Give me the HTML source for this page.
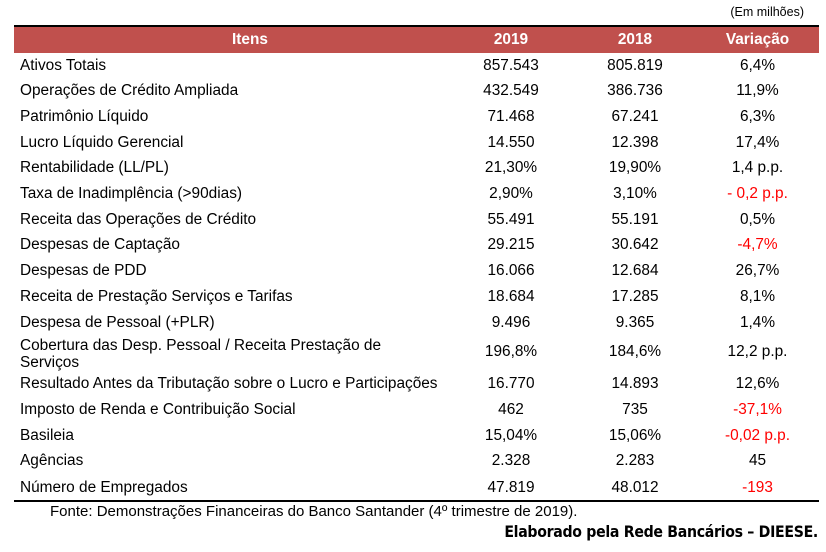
<!DOCTYPE html>
<html><head><meta charset="utf-8"><style>
body{margin:0;width:826px;height:552px;background:#fff;position:relative;font-family:"Liberation Sans",Arial,sans-serif;font-size:15.4px;color:#000;overflow:hidden}
.r{position:absolute;left:14px;width:805px;height:20px;line-height:20px}
.r span{position:absolute;top:0;white-space:nowrap}
.a{left:6px}
.b{left:427px;width:140px;text-align:center}
.c{left:551px;width:140px;text-align:center}
.d{left:666px;width:155px;text-align:center}
.red{color:#f00}
</style></head><body>
<div style="position:absolute;right:22px;top:5px;font-size:12.5px">(Em milhões)</div>
<div style="position:absolute;left:14px;top:25px;width:805px;height:2px;background:#000"></div>
<div style="position:absolute;left:14px;top:27px;width:805px;height:26px;background:#c0504d;color:#fff;font-weight:bold;line-height:26px">
<span style="position:absolute;left:0;width:472px;text-align:center">Itens</span>
<span style="position:absolute;left:427px;width:140px;text-align:center">2019</span>
<span style="position:absolute;left:551px;width:140px;text-align:center">2018</span>
<span style="position:absolute;left:666px;width:155px;text-align:center">Variação</span>
</div>
<div class="r" style="top:56px"><span class="a">Ativos Totais</span><span class="b">857.543</span><span class="c">805.819</span><span class="d">6,4%</span></div>
<div class="r" style="top:81px"><span class="a">Operações de Crédito Ampliada</span><span class="b">432.549</span><span class="c">386.736</span><span class="d">11,9%</span></div>
<div class="r" style="top:107px"><span class="a">Patrimônio Líquido</span><span class="b">71.468</span><span class="c">67.241</span><span class="d">6,3%</span></div>
<div class="r" style="top:133px"><span class="a">Lucro Líquido Gerencial</span><span class="b">14.550</span><span class="c">12.398</span><span class="d">17,4%</span></div>
<div class="r" style="top:158px"><span class="a">Rentabilidade (LL/PL)</span><span class="b">21,30%</span><span class="c">19,90%</span><span class="d">1,4 p.p.</span></div>
<div class="r" style="top:184px"><span class="a">Taxa de Inadimplência (&gt;90dias)</span><span class="b">2,90%</span><span class="c">3,10%</span><span class="d red">- 0,2 p.p.</span></div>
<div class="r" style="top:210px"><span class="a">Receita das Operações de Crédito</span><span class="b">55.491</span><span class="c">55.191</span><span class="d">0,5%</span></div>
<div class="r" style="top:235px"><span class="a">Despesas de Captação</span><span class="b">29.215</span><span class="c">30.642</span><span class="d red">-4,7%</span></div>
<div class="r" style="top:261px"><span class="a">Despesas de PDD</span><span class="b">16.066</span><span class="c">12.684</span><span class="d">26,7%</span></div>
<div class="r" style="top:287px"><span class="a">Receita de Prestação Serviços e Tarifas</span><span class="b">18.684</span><span class="c">17.285</span><span class="d">8,1%</span></div>
<div class="r" style="top:313px"><span class="a">Despesa de Pessoal (+PLR)</span><span class="b">9.496</span><span class="c">9.365</span><span class="d">1,4%</span></div>
<div class="r" style="top:337px;line-height:17px;height:36px"><span class="a" style="line-height:17px">Cobertura das Desp. Pessoal / Receita Prestação de<br>Serviços</span></div>
<div class="r" style="top:342px"><span class="b">196,8%</span><span class="c">184,6%</span><span class="d">12,2 p.p.</span></div>
<div class="r" style="top:374px"><span class="a">Resultado Antes da Tributação sobre o Lucro e Participações</span><span class="b">16.770</span><span class="c">14.893</span><span class="d">12,6%</span></div>
<div class="r" style="top:400px"><span class="a">Imposto de Renda e Contribuição Social</span><span class="b">462</span><span class="c">735</span><span class="d red">-37,1%</span></div>
<div class="r" style="top:426px"><span class="a">Basileia</span><span class="b">15,04%</span><span class="c">15,06%</span><span class="d red">-0,02 p.p.</span></div>
<div class="r" style="top:451px"><span class="a">Agências</span><span class="b">2.328</span><span class="c">2.283</span><span class="d">45</span></div>
<div class="r" style="top:478px"><span class="a">Número de Empregados</span><span class="b">47.819</span><span class="c">48.012</span><span class="d red">-193</span></div>
<div style="position:absolute;left:14px;top:500px;width:805px;height:2px;background:#000"></div>
<div style="position:absolute;left:50px;top:503px;font-size:15px">Fonte: Demonstrações Financeiras do Banco Santander (4º trimestre de 2019).</div>
<div style="position:absolute;right:8px;top:522px;font-size:15.7px;font-weight:bold;font-family:'DejaVu Sans Condensed','DejaVu Sans',sans-serif;letter-spacing:-0.3px">Elaborado pela Rede Bancários – DIEESE.</div>
</body></html>
